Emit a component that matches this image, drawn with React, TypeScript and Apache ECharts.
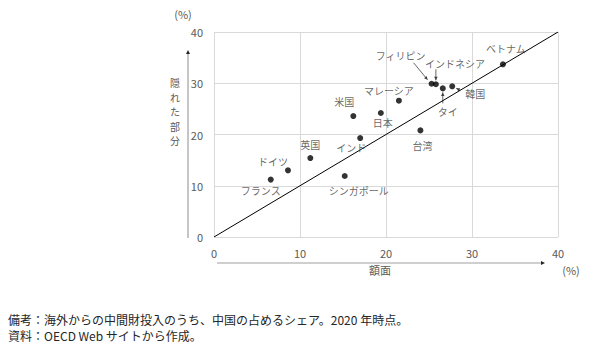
import React, { useEffect, useRef } from "react";
import * as echarts from "echarts";

const countries = ["フランス", "ドイツ", "英国", "シンガポール", "米国", "インド", "日本", "マレーシア", "台湾", "フィリピン", "インドネシア", "タイ", "韓国", "ベトナム"];
const faceValue = [6.6, 8.6, 11.2, 15.2, 16.2, 17.0, 19.4, 21.5, 24.0, 25.3, 25.8, 26.6, 27.7, 33.6];
const hiddenPart = [11.2, 13.0, 15.4, 11.9, 23.6, 19.3, 24.2, 26.6, 20.8, 29.9, 29.8, 29.0, 29.4, 33.7];
const diagX = [0, 40];
const diagY = [0, 40];
const axisMin = 0;
const axisMax = 40;
const axisStep = 10;
const xTitle = "額面";
const yTitle = "隠れた部分";
const unit = "(%)";
const notes = ["備考：海外からの中間財投入のうち、中国の占めるシェア。2020 年時点。", "資料：OECD Web サイトから作成。"];

// label offsets (pixels) relative to each dot
const labelOffset: Record<string, [number, number]> = {
  "フランス": [-10, 11],
  "ドイツ": [-15, -9],
  "英国": [0, -14],
  "シンガポール": [14, 14],
  "米国": [-9, -15],
  "インド": [-9, 9],
  "日本": [2, 10],
  "マレーシア": [-10, -10],
  "台湾": [2, 15],
  "フィリピン": [-31, -28],
  "インドネシア": [19, -21],
  "タイ": [5, 23],
  "韓国": [23, 7],
  "ベトナム": [3, -16],
};
// leader arrows: [fromDx, fromDy, toDx, toDy] in pixels relative to dot
const arrows: Record<string, [number, number, number, number]> = {
  "フィリピン": [-18, -21, -4, -4],
  "インドネシア": [0, -15, 0, -4],
  "タイ": [0, 15, 0, 4],
  "韓国": [8, 4, 4, 2],
};

const FONT = "'Noto Sans CJK JP', 'Noto Sans', sans-serif";

export default function App() {
  const ref = useRef<HTMLDivElement>(null);
  useEffect(() => {
    document.body.style.margin = "0";
    const chart = echarts.init(ref.current!, null, { renderer: "svg" });
    const gridLeft = 214, gridTop = 32, gridRight = 36, gridBottom = 115;
    chart.setOption({
      animation: false,
      textStyle: { fontFamily: FONT },
      grid: { left: gridLeft, top: gridTop, right: gridRight, bottom: gridBottom, containLabel: false },
      xAxis: {
        type: "value", min: axisMin, max: axisMax, interval: axisStep,
        axisLine: { show: false }, axisTick: { show: false },
        splitLine: { show: true, lineStyle: { color: "#d9d9d9", width: 1 } },
        axisLabel: { color: "#595959", fontSize: 11, margin: 10, fontFamily: FONT },
      },
      yAxis: {
        type: "value", min: axisMin, max: axisMax, interval: axisStep,
        axisLine: { show: false }, axisTick: { show: false },
        splitLine: { show: true, lineStyle: { color: "#d9d9d9", width: 1 } },
        axisLabel: { color: "#595959", fontSize: 11, margin: 11, fontFamily: FONT },
      },
      series: [
        {
          type: "line",
          data: diagX.map((x, i) => [x, diagY[i]]),
          symbol: "none",
          lineStyle: { color: "#000", width: 1 },
          silent: true,
          z: 2,
        },
        {
          type: "scatter",
          symbolSize: 6,
          itemStyle: { color: "#000" },
          z: 3,
          data: countries.map((n, i) => ({
            name: n,
            value: [faceValue[i], hiddenPart[i]],
            label: {
              show: true,
              position: "inside",
              offset: labelOffset[n] || [0, -12],
              formatter: n,
              color: "#404040",
              fontSize: 10,
              fontFamily: FONT,
              align: "center",
              verticalAlign: "middle",
            },
          })),
        },
      ],
    });

    const px = (v: number[]) => chart.convertToPixel({ gridIndex: 0 }, v) as number[];
    const graphics: any[] = [];
    const arrowHead = (x1: number, y1: number, x2: number, y2: number, size: number, color: string) => {
      const a = Math.atan2(y2 - y1, x2 - x1);
      const s = size;
      return {
        type: "polygon",
        shape: {
          points: [
            [x2, y2],
            [x2 - s * Math.cos(a) + (s / 2) * Math.sin(a), y2 - s * Math.sin(a) - (s / 2) * Math.cos(a)],
            [x2 - s * Math.cos(a) - (s / 2) * Math.sin(a), y2 - s * Math.sin(a) + (s / 2) * Math.cos(a)],
          ],
        },
        style: { fill: color },
        silent: true,
      };
    };
    countries.forEach((n, i) => {
      const ar = arrows[n];
      if (!ar) return;
      const p = px([faceValue[i], hiddenPart[i]]);
      const x1 = p[0] + ar[0], y1 = p[1] + ar[1], x2 = p[0] + ar[2], y2 = p[1] + ar[3];
      graphics.push({ type: "line", shape: { x1, y1, x2, y2 }, style: { stroke: "#404040", lineWidth: 0.8 }, silent: true });
      graphics.push(arrowHead(x1, y1, x2, y2, 3.5, "#404040"));
    });
    // axis arrows
    const o = px([axisMin, axisMin]);
    const xe = px([axisMax, axisMax]);
    const yArrowX = o[0] - 26;
    const yTopY = xe[1] + 20;
    graphics.push({ type: "line", shape: { x1: yArrowX, y1: o[1] + 1, x2: yArrowX, y2: yTopY }, style: { stroke: "#8c8c8c", lineWidth: 1 }, silent: true });
    graphics.push(arrowHead(yArrowX, o[1], yArrowX, yTopY - 2, 4, "#262626"));
    const xArrowY = o[1] + 26;
    const xEndX = xe[0] - 15;
    graphics.push({ type: "line", shape: { x1: o[0] + 3, y1: xArrowY, x2: xEndX, y2: xArrowY }, style: { stroke: "#bfbfbf", lineWidth: 1.5 }, silent: true });
    graphics.push(arrowHead(o[0], xArrowY, xEndX + 2, xArrowY, 4, "#262626"));
    // titles
    const chars = yTitle.split("");
    const yMid = (o[1] + xe[1]) / 2 - 23;
    chars.forEach((c, i) => {
      graphics.push({
        type: "text", x: yArrowX - 13, y: yMid + (i - (chars.length - 1) / 2) * 14.5,
        style: { text: c, font: `10px ${FONT}`, fill: "#595959", align: "center", verticalAlign: "middle" },
        silent: true,
      });
    });
    graphics.push({
      type: "text", x: (o[0] + xe[0]) / 2 - 6, y: xArrowY + 7,
      style: { text: xTitle, font: `11px ${FONT}`, fill: "#595959", align: "center", verticalAlign: "middle" },
      silent: true,
    });
    graphics.push({
      type: "text", x: xe[0] + 13, y: xArrowY + 7,
      style: { text: unit, font: `11px ${FONT}`, fill: "#595959", align: "center", verticalAlign: "middle" },
      silent: true,
    });
    graphics.push({
      type: "text", x: yArrowX - 5, y: 14,
      style: { text: unit, font: `11px ${FONT}`, fill: "#595959", align: "center", verticalAlign: "middle" },
      silent: true,
    });
    notes.forEach((t, i) => {
      graphics.push({
        type: "text", x: 8, y: 319 + i * 16,
        style: { text: t, font: `12px ${FONT}`, fill: "#262626", align: "left", verticalAlign: "middle" },
        silent: true,
      });
    });
    chart.setOption({ graphic: graphics });
    return () => chart.dispose();
  }, []);
  return <div ref={ref} style={{ width: 594, height: 352 }} />;
}
